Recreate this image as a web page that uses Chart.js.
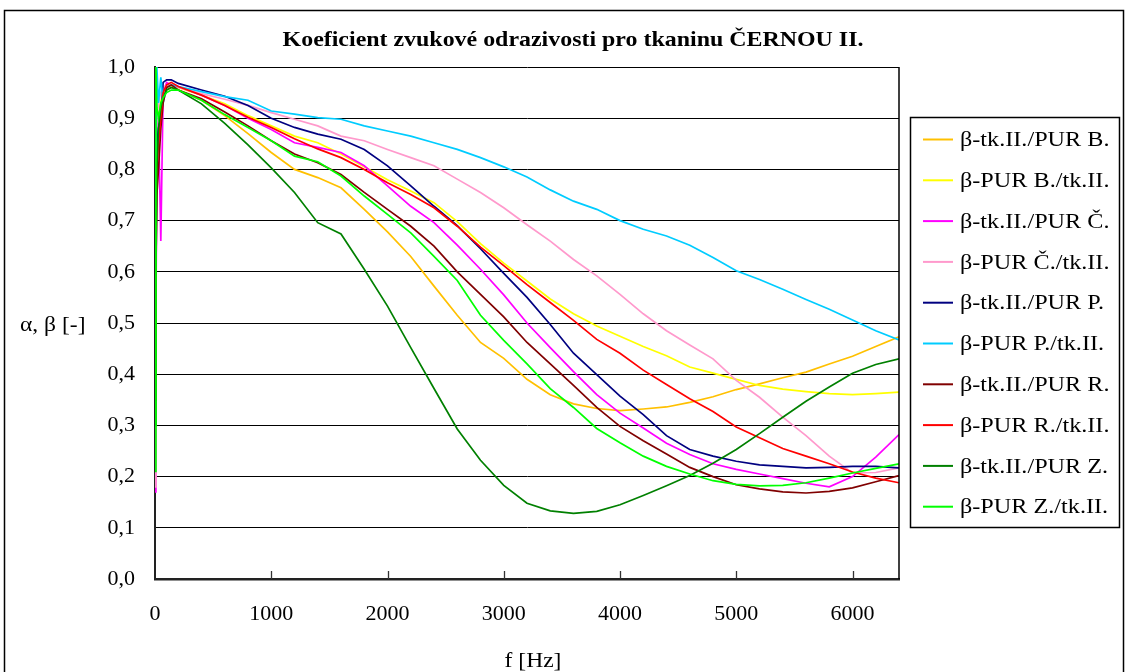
<!DOCTYPE html>
<html lang="cs">
<head>
<meta charset="utf-8">
<title>Koeficient zvukové odrazivosti pro tkaninu ČERNOU II.</title>
<script src="https://cdn.jsdelivr.net/npm/chart.js@4"></script>
<style>
  html, body { margin: 0; padding: 0; background: #fff; }
  #chart { display: block; }
</style>
</head>
<body>
<canvas id="chart" width="1127" height="672"></canvas>
<script>
// Frequency grid [Hz]
const freqs = [0, 8, 16, 30, 50, 70, 100, 140,
  200, 400, 600, 800, 1000, 1200, 1400, 1600, 1800, 2000,
  2200, 2400, 2600, 2800, 3000, 3200, 3400, 3600, 3800, 4000,
  4200, 4400, 4600, 4800, 5000, 5200, 5400, 5600, 5800, 6000,
  6200, 6400];

// Sound reflection coefficient β for each layer combination
const tkPurB = [0.43, 0.70, 0.85, 0.90, 0.93, 0.95, 0.955, 0.96,
  0.955, 0.935, 0.905, 0.870, 0.833, 0.800, 0.784, 0.764, 0.722, 0.678,
  0.630, 0.572, 0.515, 0.462, 0.431, 0.390, 0.360, 0.342, 0.333, 0.329,
  0.332, 0.336, 0.345, 0.356, 0.370, 0.381, 0.393, 0.404, 0.420, 0.435,
  0.454, 0.473];
const purBTk = [0.45, 0.72, 0.85, 0.90, 0.93, 0.95, 0.96, 0.965,
  0.960, 0.945, 0.928, 0.905, 0.885, 0.865, 0.852, 0.830, 0.805, 0.780,
  0.758, 0.735, 0.698, 0.655, 0.617, 0.582, 0.547, 0.518, 0.494, 0.474,
  0.454, 0.436, 0.414, 0.402, 0.390, 0.378, 0.371, 0.366, 0.362, 0.360,
  0.362, 0.365];
const tkPurC = [0.17, 0.50, 0.85, 0.90, 0.66, 0.95, 0.97, 0.965,
  0.962, 0.945, 0.925, 0.900, 0.878, 0.852, 0.843, 0.833, 0.807, 0.768,
  0.728, 0.696, 0.652, 0.605, 0.555, 0.500, 0.452, 0.405, 0.360, 0.324,
  0.295, 0.265, 0.243, 0.225, 0.214, 0.205, 0.196, 0.187, 0.180, 0.200,
  0.238, 0.282];
const purCTk = [0.18, 0.60, 0.90, 0.93, 0.95, 0.96, 0.965, 0.965,
  0.960, 0.948, 0.937, 0.925, 0.911, 0.898, 0.885, 0.865, 0.856, 0.839,
  0.823, 0.807, 0.781, 0.755, 0.725, 0.692, 0.660, 0.624, 0.592, 0.556,
  0.518, 0.485, 0.457, 0.430, 0.388, 0.355, 0.316, 0.280, 0.240, 0.207,
  0.208, 0.217];
const tkPurP = [0.50, 0.75, 0.85, 0.88, 0.90, 0.97, 0.975, 0.975,
  0.968, 0.955, 0.943, 0.925, 0.900, 0.882, 0.869, 0.859, 0.839, 0.807,
  0.768, 0.728, 0.690, 0.645, 0.597, 0.550, 0.497, 0.441, 0.399, 0.357,
  0.321, 0.280, 0.253, 0.240, 0.230, 0.223, 0.220, 0.217, 0.218, 0.220,
  0.220, 0.217];
const purPTk = [0.55, 0.80, 1.00, 0.93, 0.98, 0.93, 0.96, 0.965,
  0.962, 0.952, 0.942, 0.935, 0.914, 0.908, 0.901, 0.898, 0.885, 0.875,
  0.865, 0.852, 0.839, 0.823, 0.805, 0.785, 0.760, 0.738, 0.722, 0.700,
  0.683, 0.670, 0.652, 0.628, 0.602, 0.585, 0.566, 0.546, 0.527, 0.506,
  0.485, 0.467];
const tkPurR = [0.35, 0.60, 0.75, 0.80, 0.88, 0.93, 0.96, 0.965,
  0.955, 0.938, 0.912, 0.885, 0.856, 0.830, 0.813, 0.790, 0.755, 0.722,
  0.689, 0.650, 0.600, 0.556, 0.512, 0.462, 0.420, 0.378, 0.335, 0.298,
  0.270, 0.244, 0.218, 0.200, 0.184, 0.176, 0.170, 0.168, 0.171, 0.178,
  0.190, 0.202];
const purRTk = [0.48, 0.70, 0.80, 0.85, 0.90, 0.95, 0.965, 0.97,
  0.962, 0.945, 0.925, 0.902, 0.882, 0.860, 0.840, 0.823, 0.800, 0.774,
  0.751, 0.725, 0.689, 0.648, 0.612, 0.575, 0.540, 0.505, 0.468, 0.441,
  0.408, 0.380, 0.352, 0.327, 0.297, 0.276, 0.255, 0.240, 0.225, 0.209,
  0.197, 0.188];
const tkPurZ = [0.30, 0.60, 0.80, 0.88, 0.92, 0.94, 0.955, 0.96,
  0.955, 0.928, 0.890, 0.848, 0.803, 0.755, 0.696, 0.674, 0.605, 0.533,
  0.452, 0.372, 0.293, 0.232, 0.183, 0.148, 0.133, 0.128, 0.132, 0.145,
  0.163, 0.182, 0.202, 0.226, 0.253, 0.284, 0.316, 0.347, 0.375, 0.402,
  0.419, 0.430];
const purZTk = [0.21, 1.00, 0.92, 0.90, 0.93, 0.94, 0.95, 0.955,
  0.955, 0.935, 0.907, 0.882, 0.856, 0.826, 0.815, 0.787, 0.748, 0.712,
  0.676, 0.630, 0.583, 0.515, 0.466, 0.420, 0.372, 0.335, 0.294, 0.266,
  0.240, 0.220, 0.205, 0.192, 0.185, 0.182, 0.183, 0.188, 0.197, 0.207,
  0.216, 0.225];

const seriesLabels = [
  'β-tk.II./PUR B.', 'β-PUR B./tk.II.',
  'β-tk.II./PUR Č.', 'β-PUR Č./tk.II.',
  'β-tk.II./PUR P.', 'β-PUR P./tk.II.',
  'β-tk.II./PUR R.', 'β-PUR R./tk.II.',
  'β-tk.II./PUR Z.', 'β-PUR Z./tk.II.'
];
const seriesValues = [tkPurB, purBTk, tkPurC, purCTk, tkPurP, purPTk, tkPurR, purRTk, tkPurZ, purZTk];
const seriesColors = ['#FFC000', '#FFFF00', '#FF00FF', '#FF99CC', '#000080',
  '#00CCFF', '#800000', '#FF0000', '#008000', '#00FF00'];

const titleText = 'Koeficient zvukové odrazivosti pro tkaninu ČERNOU II.';
const xTitle = 'f [Hz]';
const yTitle = 'α, β [-]';
const xTickValues = [0, 1000, 2000, 3000, 4000, 5000, 6000];
const yTickValues = [0, 0.1, 0.2, 0.3, 0.4, 0.5, 0.6, 0.7, 0.8, 0.9, 1.0];

const SERIF = '"Liberation Serif", "Times New Roman", serif';

const datasets = seriesValues.map((vals, i) => ({
  label: seriesLabels[i],
  data: freqs.map((f, k) => ({ x: f, y: vals[k] })),
  borderColor: seriesColors[i],
  backgroundColor: seriesColors[i],
  borderWidth: 1.7,
  pointRadius: 0,
  tension: 0,
  fill: false,
  // later series are painted over earlier ones
  order: seriesValues.length - i
}));

// text drawn slightly widened horizontally, anchored at (x, y)
function wideText(ctx, text, x, y, sx, align) {
  ctx.save();
  ctx.translate(x, y);
  ctx.scale(sx, 1);
  ctx.textAlign = align;
  ctx.fillText(text, 0, 0);
  ctx.restore();
}

const decorations = {
  id: 'decorations',
  beforeDraw(chart) {
    const ctx = chart.ctx;
    ctx.save();
    ctx.fillStyle = '#fff';
    ctx.fillRect(0, 0, chart.width, chart.height);
    ctx.strokeStyle = '#000';
    ctx.lineWidth = 1.5;
    ctx.strokeRect(4.5, 10.5, 1119, 700);
    ctx.restore();
  },
  afterDraw(chart) {
    const ctx = chart.ctx;
    const area = chart.chartArea;
    const xs = chart.scales.x;
    ctx.save();

    // right frame of the plot area
    ctx.strokeStyle = '#000';
    ctx.lineWidth = 1.5;
    ctx.beginPath();
    ctx.moveTo(area.right, area.top);
    ctx.lineTo(area.right, area.bottom);
    ctx.stroke();

    // inward tick marks on the frequency axis
    ctx.strokeStyle = '#333';
    ctx.lineWidth = 1.3;
    xTickValues.forEach(v => {
      if (v === 0) return;
      const px = Math.round(xs.getPixelForValue(v)) + 0.5;
      ctx.beginPath();
      ctx.moveTo(px, area.bottom);
      ctx.lineTo(px, area.bottom - 8);
      ctx.stroke();
    });

    // title and axis titles
    ctx.fillStyle = '#000';
    ctx.textBaseline = 'middle';
    ctx.font = 'bold 22px ' + SERIF;
    wideText(ctx, titleText, 573, 40, 1.087, 'center');
    ctx.font = '22px ' + SERIF;
    wideText(ctx, xTitle, 533, 661, 1.07, 'center');
    wideText(ctx, yTitle, 20, 325, 1.07, 'left');

    // legend box
    const box = { x: 910.5, y: 117.5, w: 209, h: 410 };
    ctx.strokeStyle = '#000';
    ctx.lineWidth = 1.5;
    ctx.strokeRect(box.x, box.y, box.w, box.h);
    ctx.font = '22px ' + SERIF;
    chart.data.datasets.forEach((ds, i) => {
      const y = 139.5 + i * 40.8;
      ctx.strokeStyle = ds.borderColor;
      ctx.lineWidth = 2;
      ctx.beginPath();
      ctx.moveTo(923, y);
      ctx.lineTo(953, y);
      ctx.stroke();
      ctx.fillStyle = '#000';
      wideText(ctx, ds.label, 960, y + 1, 1.1, 'left');
    });
    ctx.restore();
  }
};

new Chart(document.getElementById('chart'), {
  type: 'line',
  data: { datasets },
  options: {
    responsive: false,
    animation: false,
    devicePixelRatio: 1,
    layout: { padding: { top: 67, right: 228, left: 0, bottom: 0 } },
    plugins: {
      legend: { display: false },
      title: { display: false },
      tooltip: { enabled: false }
    },
    scales: {
      x: {
        type: 'linear',
        min: 0,
        max: 6400,
        afterFit(scale) { scale.height = 93; },
        afterBuildTicks(scale) { scale.ticks = xTickValues.map(v => ({ value: v })); },
        ticks: {
          color: '#000',
          padding: 22,
          maxRotation: 0,
          autoSkip: false,
          font: { family: SERIF, size: 22 },
          callback: v => String(v)
        },
        grid: { display: false, drawTicks: false },
        border: { display: true, color: '#222', width: 2.5 }
      },
      y: {
        type: 'linear',
        min: 0,
        max: 1,
        afterFit(scale) { scale.width = 155; },
        afterBuildTicks(scale) { scale.ticks = yTickValues.map(v => ({ value: v })); },
        ticks: {
          color: '#000',
          padding: 20,
          font: { family: SERIF, size: 22 },
          callback: v => Number(v).toFixed(1).replace('.', ',')
        },
        grid: { color: '#000', lineWidth: 1, drawTicks: false },
        border: { display: true, color: '#222', width: 2 }
      }
    }
  },
  plugins: [decorations]
});
</script>
</body>
</html>
